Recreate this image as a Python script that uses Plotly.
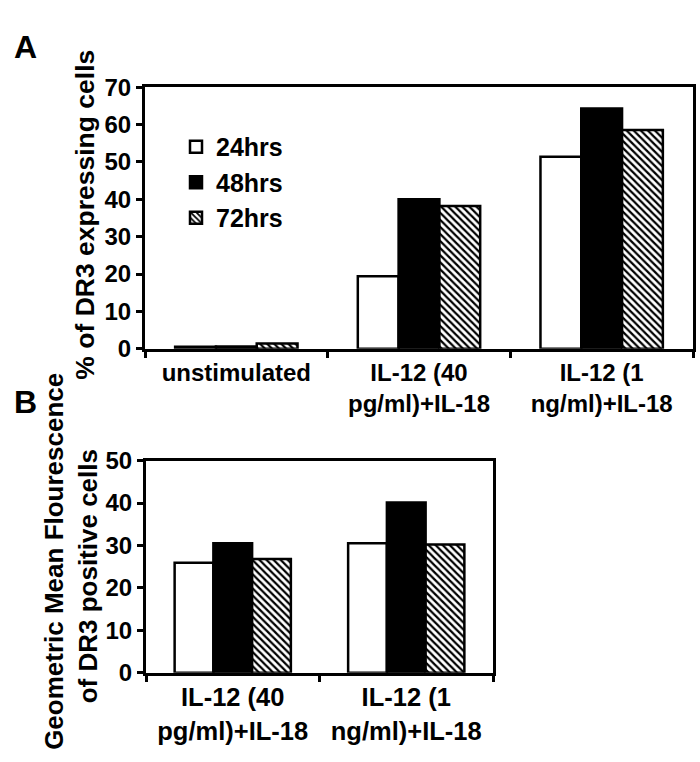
import plotly.graph_objects as go

# ---- data ----
series_names = ["24hrs", "48hrs", "72hrs"]

cats_a = ["unstimulated", "IL-12 (40 pg/ml)+IL-18", "IL-12 (1 ng/ml)+IL-18"]
ticks_a = ["unstimulated", "IL-12 (40<br>pg/ml)+IL-18", "IL-12 (1<br>ng/ml)+IL-18"]
a_24 = [0.5, 19.4, 51.4]
a_48 = [0.6, 40.0, 64.3]
a_72 = [1.4, 38.2, 58.6]

cats_b = ["IL-12 (40 pg/ml)+IL-18", "IL-12 (1 ng/ml)+IL-18"]
ticks_b = ["IL-12 (40<br>pg/ml)+IL-18", "IL-12 (1<br>ng/ml)+IL-18"]
b_24 = [25.9, 30.5]
b_48 = [30.5, 40.1]
b_72 = [26.8, 30.2]

W, H = 700, 762
FONT = "Liberation Sans, Arial, sans-serif"


def px_x(v):
    return v / W


def px_y(v):
    return 1 - v / H


def marker_for(i):
    if i == 0:
        return dict(color="white", line=dict(color="black", width=2.5))
    if i == 1:
        return dict(color="black", line=dict(color="black", width=2.5))
    return dict(color="white", line=dict(color="black", width=2.5),
                pattern=dict(shape="\\", size=5, solidity=0.45,
                             fgcolor="black", bgcolor="white", fillmode="replace"))


fig = go.Figure()
for i, (name, vals) in enumerate(zip(series_names, [a_24, a_48, a_72])):
    fig.add_trace(go.Bar(x=cats_a, y=vals, name=name, marker=marker_for(i),
                         xaxis="x", yaxis="y", showlegend=True))
for i, (name, vals) in enumerate(zip(series_names, [b_24, b_48, b_72])):
    fig.add_trace(go.Bar(x=cats_b, y=vals, name=name, marker=marker_for(i),
                         xaxis="x2", yaxis="y2", showlegend=False))

axis_common = dict(showline=True, linecolor="black", linewidth=3, mirror=True,
                   showgrid=False, zeroline=False, ticks="outside",
                   tickcolor="black", tickwidth=2.5, ticklen=6)

fig.update_layout(
    width=W, height=H,
    margin=dict(l=0, r=0, t=0, b=0),
    paper_bgcolor="white", plot_bgcolor="white",
    font=dict(family=FONT, color="black", weight="bold"),
    barmode="group", bargap=0.33, bargroupgap=0,
    xaxis=dict(domain=[px_x(145), px_x(693)], anchor="y", type="category",
               tickson="boundaries", tickvals=cats_a, ticktext=ticks_a,
               tickfont=dict(size=24, family=FONT, weight="bold"), **axis_common),
    yaxis=dict(domain=[px_y(347), px_y(76)], anchor="x", range=[0, 70], dtick=10,
               tickfont=dict(size=24, family=FONT, weight="bold"), **axis_common),
    xaxis2=dict(domain=[px_x(146), px_x(493)], anchor="y2", type="category",
                tickson="boundaries", tickvals=cats_b, ticktext=ticks_b,
                tickfont=dict(size=25.5, family=FONT, weight="bold"), **axis_common),
    yaxis2=dict(domain=[px_y(683), px_y(463)], anchor="x2", range=[0, 50], dtick=10,
                tickfont=dict(size=24, family=FONT, weight="bold"), **axis_common),
    legend=dict(x=px_x(176), y=px_y(114), xanchor="left", yanchor="top",
                bgcolor="rgba(0,0,0,0)", traceorder="normal",
                font=dict(size=25, family=FONT, weight="bold"),
                itemclick=False, itemdoubleclick=False, tracegroupgap=0),
    showlegend=True,
)

ann_font = dict(family=FONT, color="black", weight="bold")
fig.add_annotation(text="A", x=px_x(25), y=px_y(34), xref="paper", yref="paper",
                   showarrow=False, xanchor="center", yanchor="middle",
                   font=dict(size=32, **ann_font))
fig.add_annotation(text="B", x=px_x(25), y=px_y(402), xref="paper", yref="paper",
                   showarrow=False, xanchor="center", yanchor="middle",
                   font=dict(size=32, **ann_font))
fig.add_annotation(text="% of DR3 expressing cells", x=px_x(85), y=px_y(208),
                   xref="paper", yref="paper", showarrow=False, textangle=-90,
                   xanchor="center", yanchor="middle", font=dict(size=26.5, **ann_font))
fig.add_annotation(text="Geometric Mean Flourescence", x=px_x(54), y=px_y(568),
                   xref="paper", yref="paper", showarrow=False, textangle=-90,
                   xanchor="center", yanchor="middle", font=dict(size=26, **ann_font))
fig.add_annotation(text="of DR3 positive cells", x=px_x(88), y=px_y(583),
                   xref="paper", yref="paper", showarrow=False, textangle=-90,
                   xanchor="center", yanchor="middle", font=dict(size=26, **ann_font))

fig.write_html("out.html")
